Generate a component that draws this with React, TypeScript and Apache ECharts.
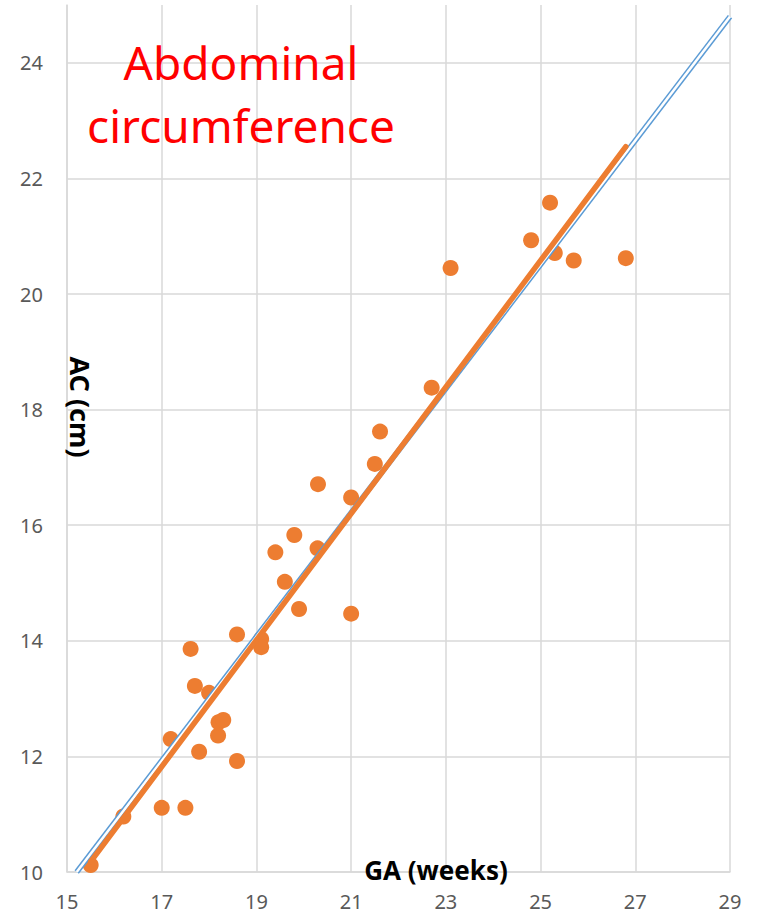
import React, { useEffect, useRef } from "react";
import * as echarts from "echarts";

// GA (weeks) and AC (cm) observations
const gaWeeks = [15.5, 16.19, 17.0, 17.5, 17.19, 17.79, 18.59, 18.19, 18.2, 18.3, 18.0, 17.7, 17.61, 18.59, 19.1, 19.1, 19.9, 19.6, 19.4, 19.8, 20.29, 20.3, 21.0, 21.0, 21.5, 21.61, 22.7, 23.1, 24.8, 25.2, 25.3, 25.7, 26.8];
const acCm = [10.12, 10.96, 11.11, 11.11, 12.3, 12.08, 11.92, 12.36, 12.59, 12.63, 13.1, 13.22, 13.86, 14.11, 14.03, 13.89, 14.55, 15.02, 15.53, 15.83, 15.6, 16.71, 14.47, 16.48, 17.06, 17.62, 18.38, 20.45, 20.93, 21.58, 20.71, 20.58, 20.62];

// Fitted trend line (orange) endpoints
const trendX = [15.5, 26.8];
const trendY = [10.18, 22.55];

// Reference line (blue, double) endpoints
const refX = [15.205, 29];
const refY = [10.0, 24.8];

const xTicks = { min: 15, max: 29, interval: 2 };
const yTicks = { min: 10, max: 25, interval: 2 };

const titleLines = ["Abdominal", "circumference"];
const xName = "GA (weeks)";
const yName = "AC (cm)";

export default function App() {
  const ref = useRef<HTMLDivElement>(null);
  useEffect(() => {
    document.body.style.margin = "0";
    if (!ref.current) return;
    const chart = echarts.init(ref.current, undefined, { renderer: "svg" });
    const grid = "#d9d9d9";
    const labelFont = { color: "#595959", fontSize: 20, fontFamily: "Noto Sans" };
    const splitColors = [grid, grid, grid, grid, grid, grid, grid, grid, "rgba(0,0,0,0)"];
    chart.setOption({
      animation: false,
      backgroundColor: "#ffffff",
      grid: { left: 67, right: 42, top: 5, bottom: 42, containLabel: false },
      xAxis: {
        type: "value",
        min: xTicks.min,
        max: xTicks.max,
        interval: xTicks.interval,
        axisLine: { show: true, lineStyle: { color: grid, width: 1.5 } },
        axisTick: { show: false },
        axisLabel: { ...labelFont, margin: 19 },
        splitLine: { show: true, lineStyle: { color: grid, width: 1.5 } },
      },
      yAxis: {
        type: "value",
        min: yTicks.min,
        max: yTicks.max,
        interval: yTicks.interval,
        axisLine: { show: true, lineStyle: { color: grid, width: 1.5 } },
        axisTick: { show: false },
        axisLabel: { ...labelFont, margin: 24, showMaxLabel: false },
        splitLine: { show: true, lineStyle: { color: splitColors, width: 1.5 } },
      },
      series: [
        {
          type: "scatter",
          data: gaWeeks.map((g, i) => [g, acCm[i]]),
          symbolSize: 16,
          itemStyle: { color: "#ED7D31", opacity: 1 },
          z: 2,
        },
        {
          type: "line",
          data: refX.map((x, i) => [x, refY[i]]),
          symbol: "none",
          lineStyle: { color: "#5B9BD5", width: 5.5 },
          z: 3,
        },
        {
          type: "line",
          data: refX.map((x, i) => [x, refY[i]]),
          symbol: "none",
          lineStyle: { color: "#ffffff", width: 2.5 },
          z: 3,
        },
        {
          type: "line",
          data: trendX.map((x, i) => [x, trendY[i]]),
          symbol: "none",
          lineStyle: { color: "#ED7D31", width: 5.5, cap: "round" },
          z: 4,
        },
      ],
      graphic: [
        {
          type: "text",
          x: 241,
          y: 62,
          z: 10,
          style: {
            text: titleLines[0],
            fill: "#ff0000",
            font: "46px 'Noto Sans'",
            align: "center",
            verticalAlign: "middle",
          },
        },
        {
          type: "text",
          x: 241,
          y: 125,
          z: 10,
          style: {
            text: titleLines[1],
            fill: "#ff0000",
            font: "46px 'Noto Sans'",
            align: "center",
            verticalAlign: "middle",
          },
        },
        {
          type: "text",
          x: 436,
          y: 870,
          z: 10,
          style: {
            text: xName,
            fill: "#000000",
            font: "bold 26px 'Noto Sans'",
            align: "center",
            verticalAlign: "middle",
          },
        },
        {
          type: "text",
          x: 80,
          y: 407,
          rotation: -Math.PI / 2,
          z: 10,
          style: {
            text: yName,
            fill: "#000000",
            font: "bold 27px 'Noto Sans'",
            align: "center",
            verticalAlign: "middle",
          },
        },
      ],
    });
    return () => chart.dispose();
  }, []);
  return <div ref={ref} style={{ width: 772, height: 914 }} />;
}
